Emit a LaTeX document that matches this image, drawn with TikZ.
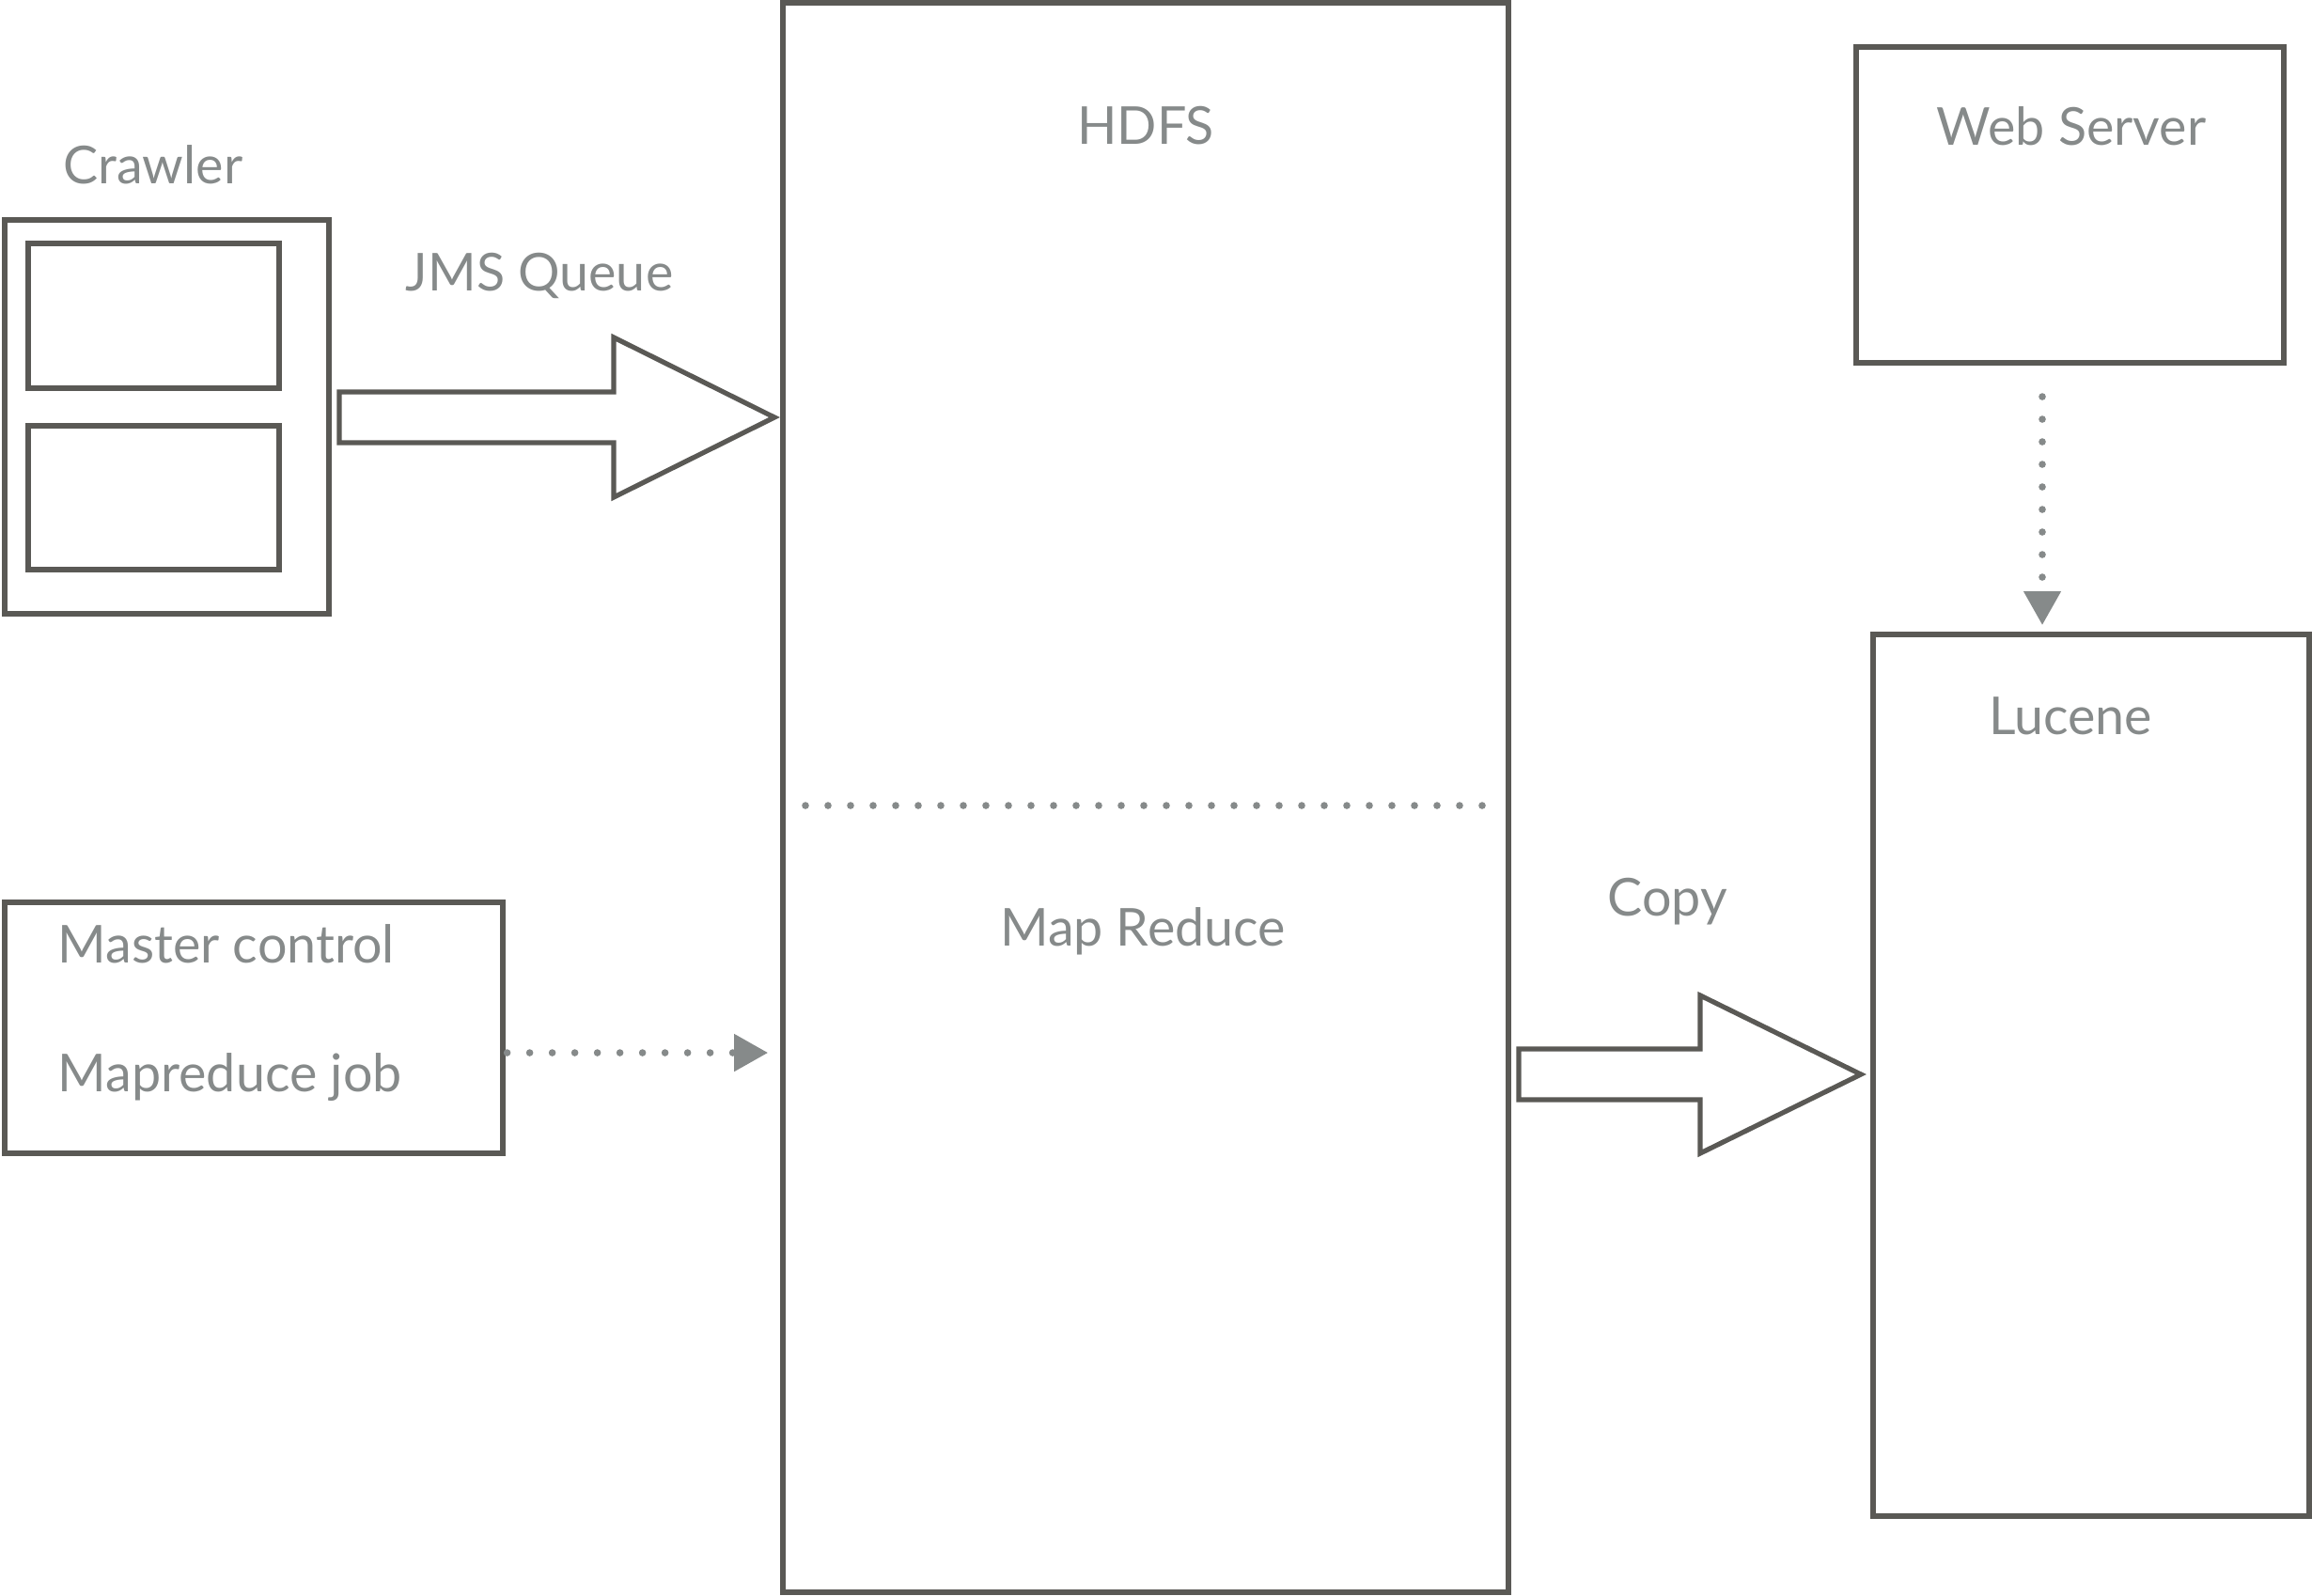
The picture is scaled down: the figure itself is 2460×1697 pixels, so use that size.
\documentclass[tikz,border=0pt]{standalone}
\usepackage{fontspec}
\setmainfont{Lato}
\usetikzlibrary{arrows.meta,fit}
\definecolor{edgegray}{HTML}{5A5955}
\definecolor{txtgray}{HTML}{868A8A}
\tikzset{
  box/.style={draw=edgegray, line width=1.3pt, inner sep=0pt, rectangle},
  lbl/.style={text=txtgray, font=\fontsize{13.9}{16}\selectfont, inner sep=0pt},
  blockarrow/.style={draw=edgegray, line width=1.3pt, line join=miter, fill=white},
  dotline/.style={draw=txtgray, line width=1.9pt, line cap=round, dash pattern=on 0pt off 6pt},
  dotarrow/.style={dotline, -{Triangle[length=9pt,width=9.5pt,fill=txtgray]}},
}
\begin{document}
\begin{tikzpicture}[x=0.25pt,y=-0.25pt]
\useasboundingbox (0,0) rectangle (2460,1697);
% boxes
\node[box, fit={(5,234)(350,653)}] (crawler) {};
\node[box, fit={(30,259)(297,413)}] (inner1) {};
\node[box, fit={(30,453)(297,606)}] (inner2) {};
\node[box, fit={(833,3)(1605,1694)}] (hdfs) {};
\node[box, fit={(5,960)(535,1227)}] (master) {};
\node[box, fit={(1975,50)(2430,386)}] (web) {};
\node[box, fit={(1993,675)(2457,1613)}] (lucene) {};
% labels
\node[lbl] (crawlerlbl) at (163,175) {Crawler};
\node[lbl] (jmslbl) at (574,293) {JMS Queue};
\node[lbl] (hdfslbl) at (1219,134) {HDFS};
\node[lbl] (mrlbl) at (1216,991) {Map Reduce};
\node[lbl, anchor=west] (mclbl) at (61,1004) {Master control};
\node[lbl, anchor=west] (mjlbl) at (61,1146) {Mapreduce job};
\node[lbl] (copylbl) at (1774,959) {Copy};
\node[lbl] (weblbl) at (2204,134) {Web Server};
\node[lbl] (lucenelbl) at (2203,762) {Lucene};
% block arrows
\draw[blockarrow] (361,417) -- (653,417) -- (653,359) -- (824,444) -- (653,529) -- (653,471) -- (361,471) -- cycle;
\draw[blockarrow] (1616,1116) -- (1809,1116) -- (1809,1059) -- (1980,1143) -- (1809,1227) -- (1809,1170) -- (1616,1170) -- cycle;
% dotted separator inside HDFS
\coordinate (sepL) at (857,857);
\coordinate (sepR) at (1581,857);
\draw[dotline] (sepL) -- (sepR);
% dotted arrows
\coordinate (mA) at (master.east |- 0,1120);
\coordinate (mB) at (hdfs.west |- 0,1120);
\draw[dotarrow, shorten >=3.3pt, shorten <=0.5pt] (mA) -- (mB);
\coordinate (wA) at (2173,386);
\coordinate (wB) at (2173,675);
\draw[dotarrow, shorten <=9pt, shorten >=2.5pt] (wA) -- (wB);
\end{tikzpicture}
\end{document}
